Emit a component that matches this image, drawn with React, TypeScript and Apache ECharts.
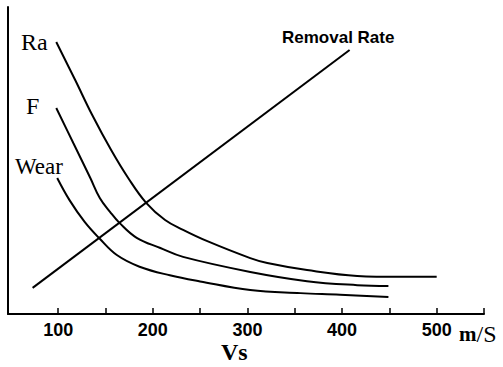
import React, { useEffect, useRef } from "react";
import * as echarts from "echarts";

const raData: [number, number][] = [
  [98, 88.6], [118, 76.2], [136, 64.8], [156, 53.4], [174, 44.3], [193, 36.2],
  [213, 30.6], [232, 27.4], [257, 23.8], [303, 18.2], [321, 16.6], [363, 14.3],
  [416, 12.4], [461, 12.1], [500, 12.1],
];
const fData: [number, number][] = [
  [98, 67.1], [116, 55.7], [134, 44.3], [144, 37.8], [155, 33.2], [165, 29.6],
  [183, 24.8], [208, 21.5], [232, 18.6], [303, 13.7], [363, 10.7], [416, 9.4],
  [449, 9.1],
];
const wearData: [number, number][] = [
  [99, 44.3], [112, 37.1], [128, 30.0], [144, 24.5], [162, 19.2], [186, 15.4],
  [218, 12.6], [250, 10.6], [303, 7.8], [356, 6.8], [398, 6.3], [449, 5.5],
];
const removalData: [number, number][] = [
  [73, 8.5], [408, 86.0],
];
const tickValues = [100, 150, 200, 250, 300, 350, 400, 450, 500, 550];
const labelValues = [100, 200, 300, 400, 500];

export default function App() {
  const ref = useRef<HTMLDivElement>(null);
  useEffect(() => {
    if (!ref.current) return;
    document.body.style.margin = "0";
    const chart = echarts.init(ref.current, null, { renderer: "svg" });
    const lineSeries = (name: string, data: [number, number][]) => ({
      name,
      type: "line",
      data,
      smooth: 0.4,
      showSymbol: false,
      lineStyle: { color: "#000", width: 2 },
    });
    chart.setOption({
      animation: false,
      backgroundColor: "#fff",
      grid: { left: 8, right: 19, top: 7, bottom: 53 },
      xAxis: {
        type: "value",
        min: 47,
        max: 550,
        axisLine: { show: true, lineStyle: { color: "#000", width: 2 } },
        axisTick: {
          show: true,
          inside: true,
          length: 6,
          customValues: tickValues,
          lineStyle: { color: "#000", width: 1.5 },
        },
        axisLabel: {
          customValues: labelValues,
          color: "#000",
          fontSize: 18,
          fontWeight: "bold",
          fontFamily: "Liberation Sans",
          margin: 7,
        },
        splitLine: { show: false },
      },
      yAxis: {
        type: "value",
        min: 0,
        max: 100,
        axisLine: { show: true, lineStyle: { color: "#000", width: 2 } },
        axisTick: { show: false },
        axisLabel: { show: false },
        splitLine: { show: false },
      },
      series: [
        lineSeries("Ra", raData),
        lineSeries("F", fData),
        lineSeries("Wear", wearData),
        { ...lineSeries("Removal Rate", removalData), smooth: false },
      ],
      graphic: [
        { type: "text", left: 21, top: 30, style: { text: "Ra", font: "24px 'Liberation Serif'", fill: "#000" } },
        { type: "text", left: 26, top: 94, style: { text: "F", font: "24px 'Liberation Serif'", fill: "#000" } },
        { type: "text", left: 15, top: 155, style: { text: "Wear", font: "23px 'Liberation Serif'", fill: "#000" } },
        { type: "text", left: 282, top: 29, style: { text: "Removal Rate", font: "bold 17px 'Liberation Sans'", fill: "#000" } },
        { type: "text", left: 221, top: 340, style: { text: "Vs", font: "bold 24px 'Liberation Serif'", fill: "#000" } },
        {
          type: "text",
          left: 459,
          top: 322,
          style: {
            text: "{m|m}{s|/S}",
            rich: {
              m: { font: "bold 21px 'Liberation Serif'", fill: "#000" },
              s: { font: "24px 'Liberation Serif'", fill: "#000" },
            },
          },
        },
      ],
    });
    return () => chart.dispose();
  }, []);
  return <div ref={ref} style={{ width: 503, height: 367 }} />;
}
